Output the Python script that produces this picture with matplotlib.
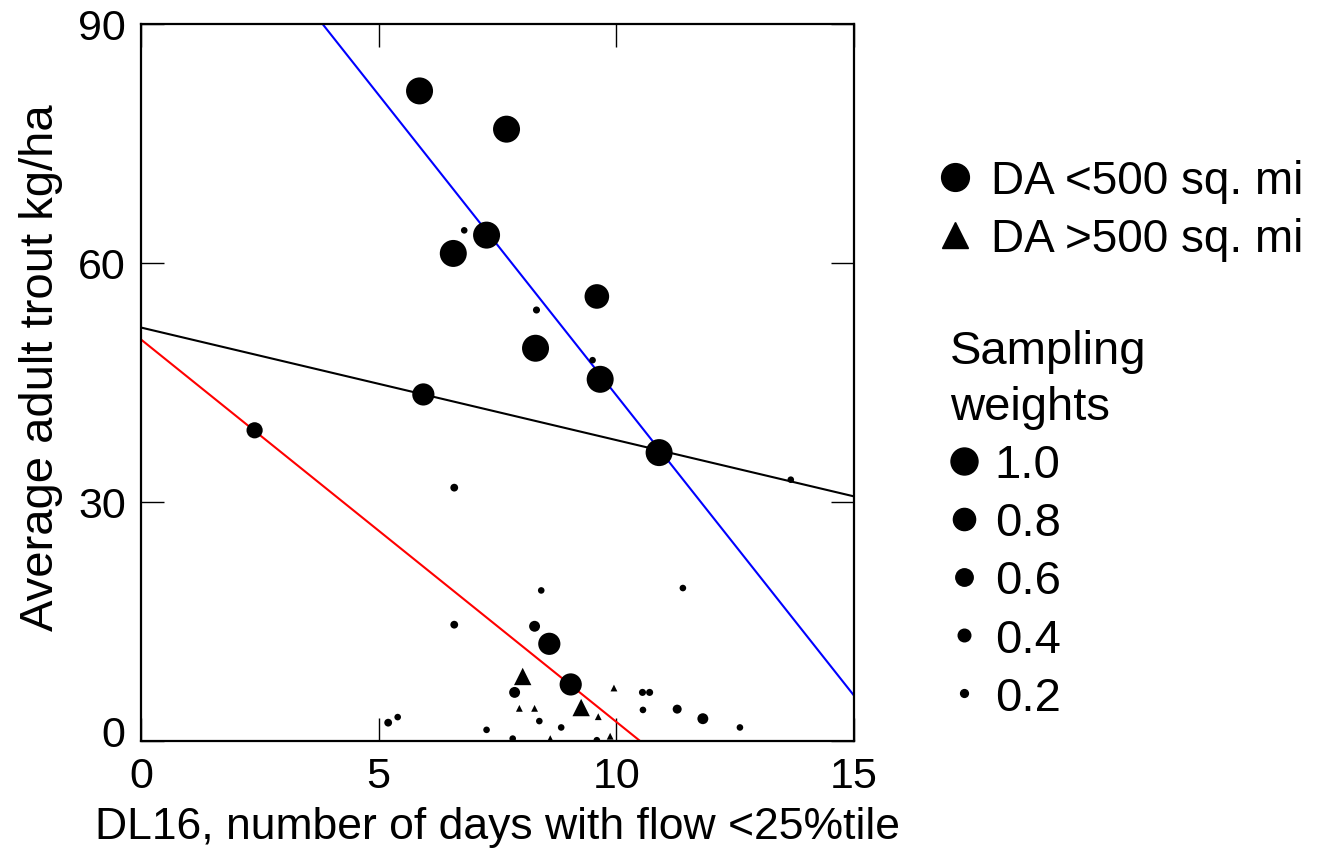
import matplotlib
matplotlib.use("Agg")
import matplotlib.pyplot as plt
import matplotlib.transforms as mtransforms
from matplotlib.lines import Line2D
import numpy as np

plt.rcParams['font.family'] = ['Liberation Sans', 'DejaVu Sans']

# DA < 500 sq. mi sites: x, y, sampling weight
circ_x = [5.86, 7.69, 6.80, 7.27, 6.57, 5.94, 2.39, 6.59, 8.32, 9.59, 8.30, 9.50,
          9.66, 10.90, 13.67, 6.59, 5.20, 5.40, 7.27, 8.42, 11.40, 8.28, 8.59, 9.04,
          7.86, 10.55, 10.70, 10.56, 11.28, 11.82, 8.38, 8.84, 12.60, 7.82, 9.59]
circ_y = [81.6, 76.8, 64.1, 63.5, 61.2, 43.5, 39.0, 31.8, 54.1, 55.8, 49.3, 47.8,
          45.4, 36.2, 32.8, 14.6, 2.3, 3.0, 1.4, 18.9, 19.2, 14.4, 12.2, 7.1,
          6.1, 6.1, 6.1, 3.9, 4.0, 2.8, 2.5, 1.7, 1.7, 0.3, 0.1]
circ_w = [1.0, 1.0, 0.15, 1.0, 1.0, 0.8, 0.55, 0.2, 0.17, 0.9, 1.0, 0.15,
          1.0, 1.0, 0.15, 0.2, 0.2, 0.15, 0.15, 0.15, 0.15, 0.33, 0.8, 0.8,
          0.33, 0.17, 0.17, 0.15, 0.25, 0.33, 0.15, 0.15, 0.15, 0.15, 0.15]

# DA > 500 sq. mi sites
tri_x = [8.03, 9.26, 9.95, 7.96, 8.28, 9.62, 8.61, 9.87]
tri_y = [8.1, 4.2, 6.65, 4.1, 4.1, 3.05, 0.3, 0.6]
tri_w = [0.6, 0.6, 0.16, 0.16, 0.16, 0.16, 0.16, 0.16]

# fitted lines: intercept, slope
fit_black = (51.9, -1.413)
fit_blue = (118.8, -7.54)
fit_red = (50.4, -4.80)

legend_weights = [1.0, 0.8, 0.6, 0.4, 0.2]
legend_labels = ['1.0', '0.8', '0.6', '0.4', '0.2']


def msize(w):
    # marker diameter in points from sampling weight
    return (3 + 24 * w) * 0.72


fig = plt.figure(figsize=(13.25, 8.54), dpi=100)
ax = fig.add_axes([141 / 1325, 112 / 854, 713 / 1325, 717 / 854])

xx = np.linspace(0, 15, 200)
for (b0, b1), col in [(fit_black, 'black'), (fit_blue, '#0000ff'), (fit_red, '#ff0000')]:
    ax.plot(xx, b0 + b1 * xx, color=col, lw=1.5)

ax.scatter(circ_x, circ_y, s=[msize(w) ** 2 for w in circ_w], marker='o',
           color='black', linewidths=0, zorder=3)
ax.scatter(tri_x, tri_y, s=[msize(w) ** 2 for w in tri_w], marker='^',
           color='black', linewidths=0, zorder=3)

ax.set_xlim(0, 15)
ax.set_ylim(0, 90)
ax.set_xticks([0, 5, 10, 15])
ax.set_yticks([0, 30, 60, 90])
ax.tick_params(direction='in', length=16.5, width=1, top=True, right=True,
               labelsize=31, pad=11)
for sp in ax.spines.values():
    sp.set_linewidth(1.6)

# lift the y "0" label a little so it clears the x "0"
lab0 = ax.get_yticklabels()[0]
lab0.set_transform(lab0.get_transform() +
                   mtransforms.ScaledTranslation(0, 10 / 100, fig.dpi_scale_trans))

ax.set_xlabel('DL16, number of days with flow <25%tile', fontsize=32)
ax.set_ylabel('Average adult trout kg/ha', fontsize=34)
ax.xaxis.set_label_coords(0.5, -0.09)
ax.yaxis.set_label_coords(-0.109, 0.522)

h1 = [Line2D([], [], ls='', marker='o', color='black', markersize=20),
      Line2D([], [], ls='', marker='^', color='black', markersize=19)]
leg1 = ax.legend(h1, ['DA <500 sq. mi', 'DA >500 sq. mi'], loc='upper left',
                 bbox_to_anchor=(941 / 1325, 1 - 160 / 854), bbox_transform=fig.transFigure,
                 frameon=False, fontsize=33, handlelength=0.6, handletextpad=0.5,
                 labelspacing=0.3, borderaxespad=0, borderpad=0)
ax.add_artist(leg1)

h2 = [Line2D([], [], ls='', marker='o', color='black', markersize=msize(w))
      for w in legend_weights]
leg2 = ax.legend(h2, legend_labels, loc='upper left', title='Sampling\nweights',
                 title_fontsize=34, alignment='left',
                 bbox_to_anchor=(950 / 1325, 1 - 330 / 854), bbox_transform=fig.transFigure,
                 frameon=False, fontsize=34, handlelength=0.6, handletextpad=0.35,
                 labelspacing=0.3, borderaxespad=0, borderpad=0)
leg2.get_title().set_linespacing(1.35)

fig.savefig('out.png', dpi=100)
